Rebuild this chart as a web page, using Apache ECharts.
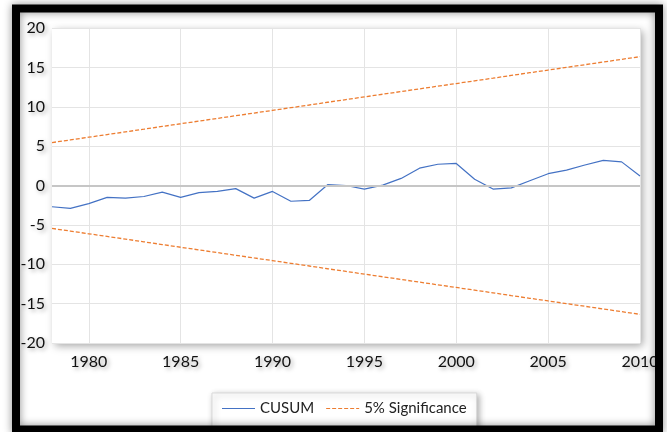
<!DOCTYPE html>
<html lang="en">
<head>
    <meta charset="UTF-8">
    <script type="text/javascript" src="https://cdn.jsdelivr.net/npm/echarts@6/dist/echarts.min.js"></script>
    <style>
        html, body {margin: 0; padding: 0; background: #fff;}
        #chart {width: 667px; height: 432px;}
    </style>
</head>
<body>
<div id="chart"></div>
<script>
    var years = [1978, 1979, 1980, 1981, 1982, 1983, 1984, 1985, 1986, 1987, 1988,
        1989, 1990, 1991, 1992, 1993, 1994, 1995, 1996, 1997, 1998, 1999, 2000,
        2001, 2002, 2003, 2004, 2005, 2006, 2007, 2008, 2009, 2010];

    var cusum = [-2.7, -2.9, -2.3, -1.5, -1.6, -1.4, -0.85, -1.5, -0.9, -0.75, -0.4,
        -1.6, -0.75, -2.0, -1.9, 0.1, 0.0, -0.45, 0.05, 0.9, 2.2, 2.7, 2.8,
        0.8, -0.45, -0.3, 0.6, 1.5, 1.95, 2.6, 3.2, 3.0, 1.2];

    var upper = [5.45, 5.79, 6.13, 6.47, 6.81, 7.15, 7.50, 7.84, 8.18, 8.52, 8.86,
        9.20, 9.54, 9.88, 10.22, 10.57, 10.91, 11.25, 11.59, 11.93, 12.27, 12.61, 12.95,
        13.29, 13.63, 13.98, 14.32, 14.66, 15.00, 15.34, 15.68, 16.02, 16.36];

    var lower = [-5.45, -5.79, -6.13, -6.47, -6.81, -7.15, -7.50, -7.84, -8.18, -8.52, -8.86,
        -9.20, -9.54, -9.88, -10.22, -10.57, -10.91, -11.25, -11.59, -11.93, -12.27, -12.61, -12.95,
        -13.29, -13.63, -13.98, -14.32, -14.66, -15.00, -15.34, -15.68, -16.02, -16.36];

    var font = 'Lato, "Open Sans", sans-serif';
    // soft shadow under the axis labels
    var labelShadow = {
        textShadowColor: 'rgba(0,0,0,0.35)',
        textShadowBlur: 4,
        textShadowOffsetX: 2,
        textShadowOffsetY: 2
    };

    // legend icons: plain stroke and dashed stroke (no dot in the middle)
    var solidIcon = 'path://M0,0h33v1h-33z';
    var dashIcon = 'path://M0,0h4v1h-4z M6,0h4v1h-4z M12,0h4v1h-4z M18,0h4v1h-4z M24,0h4v1h-4z M30,0h3v1h-3z';

    var myChart = echarts.init(document.getElementById('chart'));
    myChart.setOption({
        backgroundColor: '#fff',
        animation: false,
        grid: {
            left: 52, top: 28, right: 27, bottom: 89,
            show: true,
            backgroundColor: '#fff',
            borderWidth: 0,
            shadowColor: 'rgba(0,0,0,0.35)',
            shadowBlur: 8,
            shadowOffsetX: 3,
            shadowOffsetY: 3
        },
        legend: {
            left: 212,
            top: 393,
            width: 263,
            height: 40,
            padding: [8, 10, 30, 10],
            data: [
                {name: 'CUSUM', icon: solidIcon},
                {name: '5% Significance', icon: dashIcon}
            ],
            itemWidth: 33,
            itemHeight: 1.4,
            itemGap: 12,
            backgroundColor: '#fff',
            borderColor: '#d9d9d9',
            borderWidth: 1,
            shadowColor: 'rgba(0,0,0,0.3)',
            shadowBlur: 6,
            shadowOffsetX: 2,
            shadowOffsetY: 2,
            textStyle: {fontFamily: font, fontSize: 15, color: '#222'}
        },
        xAxis: {
            type: 'category',
            data: years,
            boundaryGap: false,
            axisLine: {show: false},
            axisTick: {show: false},
            axisLabel: Object.assign({
                interval: function (idx, val) { return val % 5 === 0; },
                margin: 11,
                fontFamily: font,
                fontSize: 16,
                color: '#111'
            }, labelShadow),
            splitLine: {
                show: true,
                interval: function (idx, val) { return val % 5 === 0; },
                lineStyle: {color: '#e4e4e4', width: 1}
            }
        },
        yAxis: {
            type: 'value',
            min: -20,
            max: 20,
            interval: 5,
            axisLine: {show: false},
            axisTick: {show: false},
            axisLabel: Object.assign({
                margin: 7,
                fontFamily: font,
                fontSize: 16,
                color: '#111'
            }, labelShadow),
            splitLine: {lineStyle: {color: '#e4e4e4', width: 1}}
        },
        series: [
            {
                name: 'CUSUM',
                type: 'line',
                data: cusum,
                symbol: 'none',
                z: 3,
                lineStyle: {color: '#4472C4', width: 1.2},
                itemStyle: {color: '#4472C4'},
                markLine: {
                    silent: true,
                    symbol: 'none',
                    label: {show: false},
                    lineStyle: {color: '#c6c6c6', width: 2, type: 'solid'},
                    data: [{yAxis: 0}]
                }
            },
            {
                name: '5% Significance',
                type: 'line',
                data: upper,
                symbol: 'none',
                lineStyle: {color: '#ED7D31', width: 1.3, type: [4, 2]},
                itemStyle: {color: '#ED7D31'}
            },
            {
                name: '5% Significance',
                type: 'line',
                data: lower,
                symbol: 'none',
                lineStyle: {color: '#ED7D31', width: 1.3, type: [4, 2]},
                itemStyle: {color: '#ED7D31'}
            }
        ],
        graphic: [
            {
                // black picture frame
                type: 'rect',
                z: 100,
                silent: true,
                shape: {x: 16, y: 8.5, width: 643, height: 421},
                style: {
                    fill: 'none',
                    stroke: '#000',
                    lineWidth: 8,
                    shadowColor: 'rgba(0,0,0,0.45)',
                    shadowBlur: 8
                }
            }
        ]
    });
</script>
</body>
</html>
